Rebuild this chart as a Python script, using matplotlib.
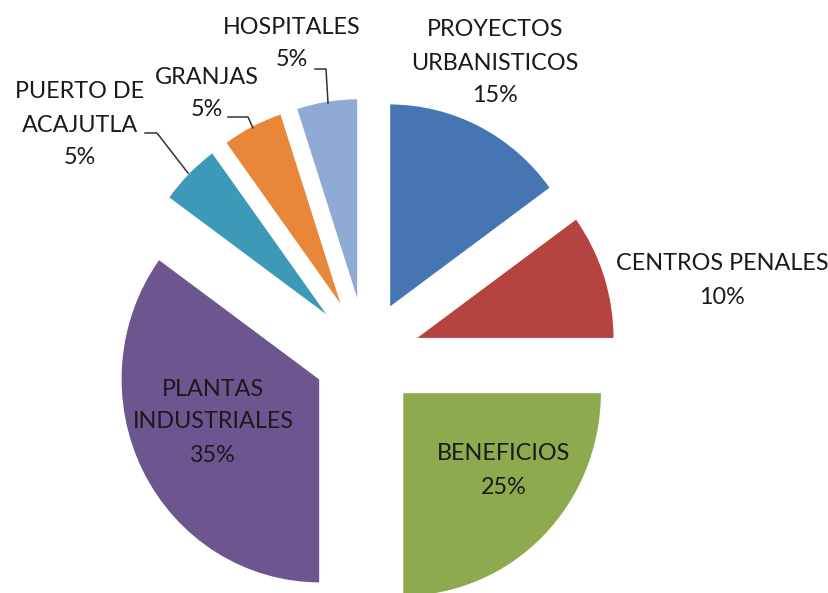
import matplotlib
matplotlib.use("Agg")
import matplotlib.pyplot as plt

# data
categories = ["PROYECTOS\nURBANISTICOS", "CENTROS PENALES", "BENEFICIOS",
              "PLANTAS\nINDUSTRIALES", "PUERTO DE\nACAJUTLA", "GRANJAS", "HOSPITALES"]
shares = [15, 10, 25, 35, 5, 5, 5]
colors = ["#4675B4", "#B5433F", "#8DAA4F", "#6D5590", "#3C9AB8", "#E8863A", "#8FAAD5"]

W, H = 829, 593
R = 204
sx = 199 / 204  # the original picture is a bit squeezed sideways
plt.rcParams["font.family"] = ["Lato", "DejaVu Sans"]

fig = plt.figure(figsize=(W / 100, H / 100), dpi=100)
ax = fig.add_axes([0, 0, 1, 1])

# explode is in data units here (pixels), about a quarter of the radius
ax.pie(shares, colors=colors, startangle=90, counterclock=False,
       explode=[0.26 * R] * len(shares), radius=R, center=(366 / sx, H - 355),
       wedgeprops=dict(edgecolor="white", linewidth=1))
ax.set_xlim(0, W / sx)
ax.set_ylim(0, H)
ax.set_aspect("auto")
ax.axis("off")

def px(x, y):  # screen pixel -> data coords
    return x / sx, H - y

# label centres in screen pixels (x, y of first line)
label_pos = [(495, 28), (722, 262), (504, 452), (213, 387), (80, 90), (207, 75), (292, 25)]
line_h = 33
for name, pct, (x, y) in zip(categories, shares, label_pos):
    lines = name.split("\n") + [f"{pct}%"]
    for i, s in enumerate(lines):
        ax.text(*px(x, y + i * line_h + 8.5), s, ha="center", va="baseline",
                fontsize=16.8, color="#1a1a1a")

# leader lines for the small slices
leaders = [
    [(145, 133), (157, 133), (188, 173)],
    [(228, 117), (248, 117), (253, 128)],
    [(315, 69), (326, 69), (328, 103)],
]
for pts in leaders:
    xy = [px(*p) for p in pts]
    ax.plot([p[0] for p in xy], [p[1] for p in xy], color="#333333", lw=1.1)

fig.savefig("out.png", dpi=100)
